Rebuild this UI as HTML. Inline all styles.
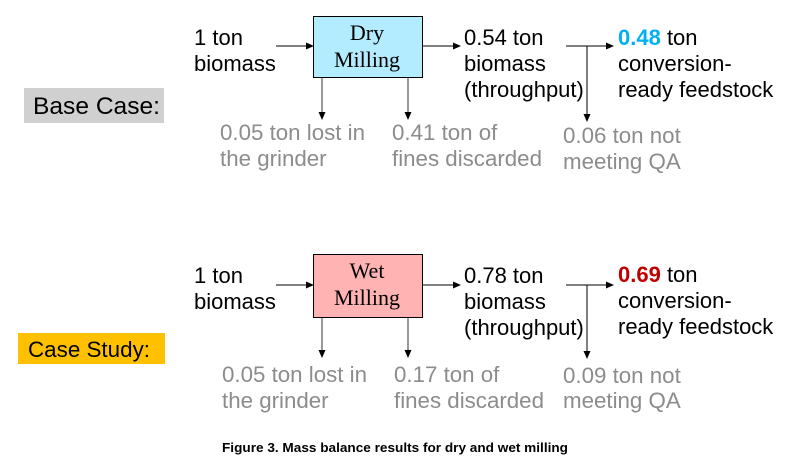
<!DOCTYPE html>
<html><head><meta charset="utf-8"><style>
body{margin:0;background:#fff}
svg{display:block}
text{font-family:"Liberation Sans",Arial,sans-serif;font-size:22px;fill:#000}
.g{fill:#8c8c8c;font-size:22.3px}
.s{font-family:"Liberation Serif",serif;font-size:22px}
</style></head><body>
<svg width="790" height="462" viewBox="0 0 790 462">
<defs><marker id="a" markerWidth="8" markerHeight="8" refX="7" refY="4" orient="auto" markerUnits="userSpaceOnUse"><path d="M0,0.5 L8,4 L0,7.5z" fill="#000"/></marker></defs>
<g>
<rect x="24" y="88" width="140" height="35" fill="#d0d0d0"/>
<text x="33" y="114" style="font-size:24px" textLength="127" lengthAdjust="spacingAndGlyphs">Base Case:</text>
<text x="194" y="45"><tspan x="194">1 ton</tspan><tspan x="194" dy="26">biomass</tspan></text>
<line x1="276" y1="46" x2="313" y2="46" stroke="#000" marker-end="url(#a)"/>
<rect x="313.5" y="16.5" width="109" height="61" fill="#b3ecff" stroke="#000"/>
<text class="s" x="367" y="40" text-anchor="middle"><tspan x="367">Dry</tspan><tspan x="367" dy="27">Milling</tspan></text>
<line x1="423" y1="46" x2="460" y2="46" stroke="#000" marker-end="url(#a)"/>
<text x="464" y="45"><tspan x="464">0.54 ton</tspan><tspan x="464" dy="26">biomass</tspan><tspan x="464" dy="26">(throughput)</tspan></text>
<line x1="566" y1="46" x2="613" y2="46" stroke="#000" marker-end="url(#a)"/>
<line x1="587" y1="46" x2="587" y2="121" stroke="#000" marker-end="url(#a)"/>
<text x="618" y="45"><tspan x="618"><tspan font-weight="bold" fill="#00b0f0">0.48</tspan> ton</tspan><tspan x="618" dy="26">conversion-</tspan><tspan x="618" dy="26">ready feedstock</tspan></text>
<line x1="322" y1="78" x2="322" y2="119" stroke="#000" stroke-width="0.8" marker-end="url(#a)"/>
<line x1="408" y1="78" x2="408" y2="119" stroke="#000" stroke-width="0.8" marker-end="url(#a)"/>
<text class="g" x="220" y="140"><tspan x="220">0.05 ton lost in</tspan><tspan x="220" dy="26">the grinder</tspan></text>
<text class="g" x="392" y="140"><tspan x="392">0.41 ton of</tspan><tspan x="392" dy="26">fines discarded</tspan></text>
<text class="g" x="563" y="143"><tspan x="563">0.06 ton not</tspan><tspan x="563" dy="26">meeting QA</tspan></text>
</g>
<g>
<rect x="18" y="333" width="147" height="31" fill="#ffc000"/>
<text x="28" y="357" style="font-size:22.5px" textLength="122" lengthAdjust="spacingAndGlyphs">Case Study:</text>
<text x="194" y="283"><tspan x="194">1 ton</tspan><tspan x="194" dy="26">biomass</tspan></text>
<line x1="276" y1="285" x2="313" y2="285" stroke="#000" marker-end="url(#a)"/>
<rect x="313.5" y="254.5" width="109" height="63" fill="#ffb3b3" stroke="#000"/>
<text class="s" x="367" y="278" text-anchor="middle"><tspan x="367">Wet</tspan><tspan x="367" dy="27">Milling</tspan></text>
<line x1="423" y1="285" x2="460" y2="285" stroke="#000" marker-end="url(#a)"/>
<text x="464" y="283"><tspan x="464">0.78 ton</tspan><tspan x="464" dy="26">biomass</tspan><tspan x="464" dy="26">(throughput)</tspan></text>
<line x1="566" y1="285" x2="613" y2="285" stroke="#000" marker-end="url(#a)"/>
<line x1="587" y1="285" x2="587" y2="358" stroke="#000" marker-end="url(#a)"/>
<text x="618" y="282"><tspan x="618"><tspan font-weight="bold" fill="#c00000">0.69</tspan> ton</tspan><tspan x="618" dy="26">conversion-</tspan><tspan x="618" dy="26">ready feedstock</tspan></text>
<line x1="322" y1="318" x2="322" y2="357" stroke="#000" stroke-width="0.8" marker-end="url(#a)"/>
<line x1="408" y1="318" x2="408" y2="357" stroke="#000" stroke-width="0.8" marker-end="url(#a)"/>
<text class="g" x="222" y="382"><tspan x="222">0.05 ton lost in</tspan><tspan x="222" dy="26">the grinder</tspan></text>
<text class="g" x="394" y="382"><tspan x="394">0.17 ton of</tspan><tspan x="394" dy="26">fines discarded</tspan></text>
<text class="g" x="563" y="383"><tspan x="563">0.09 ton not</tspan><tspan x="563" dy="25">meeting QA</tspan></text>
</g>
<text x="222" y="452" style="font-size:13px;font-weight:bold" textLength="346" lengthAdjust="spacingAndGlyphs">Figure 3. Mass balance results for dry and wet milling</text>
</svg>
</body></html>
